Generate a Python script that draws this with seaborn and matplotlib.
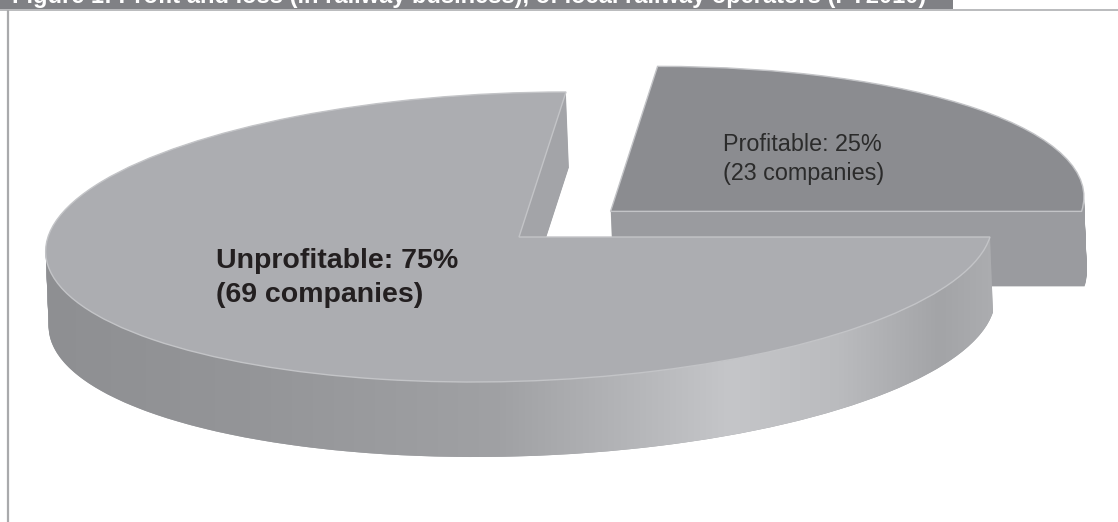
import numpy as np
import matplotlib
matplotlib.use("Agg")
import matplotlib.pyplot as plt
from matplotlib.transforms import Affine2D
from matplotlib.path import Path
from matplotlib.patches import Rectangle
import seaborn as sns

# Operators split by result of their railway business
categories = ["Profitable", "Unprofitable"]
shares = [25, 75]          # percent
companies = [23, 69]       # number of operators
explode = [0.25, 0.0]

title = "Figure 1: Profit and loss (in railway business), of local railway operators (FY2010)"

sns.set_theme(style="white")
plt.rcParams["font.family"] = ["Liberation Sans", "DejaVu Sans"]

W, H = 1118, 522
fig = plt.figure(figsize=(W / 100, H / 100), dpi=100)
ax = fig.add_axes([0, 0, 1, 1])

# oblique projection of the unit pie onto the page (pixel coordinates)
CX, CY, A, B, SH = 519, 237, 471, 145, 47
DX, DY = 3, 75


def page(dx=0.0, dy=0.0):
    return Affine2D().from_values(A, 0, SH, -B, CX + dx, CY + dy)


top_colors = ["#8b8c90", "#acadb1"]
wall_colors = ["#9a9b9f", "#a3a4a8"]
wall_z = (1, 3)
top_z = (2, 5)

# extruded side walls: stacked copies of the pie, deepest first
for k in range(DY, 0, -1):
    layer, _ = ax.pie(shares, explode=explode, startangle=0, counterclock=True,
                      colors=wall_colors, wedgeprops=dict(linewidth=0))
    for w, z in zip(layer, wall_z):
        w.set_transform(page(DX * k / DY, k) + ax.transData)
        w.set_zorder(z)

# shading along the front wall of the large slice
gx = np.linspace(0, W, 800)
sx = [40, 250, 500, 640, 730, 840, 940, 995]
sv = [142, 148, 160, 182, 197, 186, 163, 172]
g = np.interp(gx, sx, sv) / 255.0
img = np.stack([g, g + 1 / 255, g + 4 / 255], axis=-1)[None, :, :]
img = np.clip(img, 0, 1)
im = ax.imshow(img, extent=(0, W, H, 0), aspect="auto", zorder=4,
               interpolation="bilinear")
t = np.radians(np.linspace(180 + np.degrees(np.arctan2(SH, A)), 360, 300))
unit = np.column_stack([np.cos(t), np.sin(t)])
poly = np.vstack([page().transform(unit), page(DX, DY).transform(unit)[::-1]])
im.set_clip_path(Path(poly), transform=ax.transData)

# top faces
tops, _ = ax.pie(shares, explode=explode, startangle=0, counterclock=True,
                 colors=top_colors,
                 wedgeprops=dict(linewidth=1.0, edgecolor="#c3c4c7"))
for w, z in zip(tops, top_z):
    w.set_transform(page() + ax.transData)
    w.set_zorder(z)

ax.set_aspect("auto")
ax.set_xlim(0, W)
ax.set_ylim(H, 0)
ax.axis("off")

# slice labels
ax.text(723, 151, f"{categories[0]}: {shares[0]}%", fontsize=16.8,
        color="#2b2b2b", va="baseline", ha="left", zorder=10)
ax.text(723, 180, f"({companies[0]} companies)", fontsize=16.8,
        color="#2b2b2b", va="baseline", ha="left", zorder=10)
ax.text(216, 268, f"{categories[1]}: {shares[1]}%", fontsize=20.5,
        fontweight="bold", color="#231f20", va="baseline", ha="left", zorder=10)
ax.text(216, 302, f"({companies[1]} companies)", fontsize=20.5,
        fontweight="bold", color="#231f20", va="baseline", ha="left", zorder=10)

# header bar and frame
ax.add_patch(Rectangle((0, -20), 953, 29, color="#808185", zorder=20, lw=0))
ax.plot([0, W], [9.5, 9.5], color="#b4b5b7", lw=1.3, zorder=21,
        solid_capstyle="butt")
ax.plot([7.5, 7.5], [9.5, H], color="#a9aaac", lw=1.6, zorder=21,
        solid_capstyle="butt")
ax.text(12, 2.5, title, fontsize=17, fontweight="bold", color="white",
        va="baseline", ha="left", zorder=22)

fig.savefig("out.png", dpi=100)
